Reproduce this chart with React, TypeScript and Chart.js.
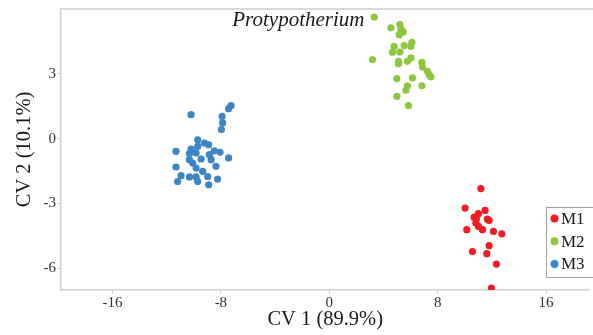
import React, { useEffect, useRef } from 'react';
import { Chart, registerables } from 'chart.js';

Chart.register(...registerables);

const groupLabels = ['M1', 'M2', 'M3'];
const groupColors = ['#ee1d24', '#8dc63f', '#3d85c6'];

const m1X = [11.19, 10.03, 11.5, 11.01, 10.69, 10.86, 11.67, 11.8, 10.82, 11.01, 10.15, 11.31, 12.12, 12.74, 11.8, 10.57, 11.63, 12.34, 11.97];
const m1Y = [-2.31, -3.21, -3.32, -3.47, -3.63, -3.72, -3.72, -3.78, -3.9, -4.06, -4.21, -4.21, -4.29, -4.4, -4.95, -5.22, -5.32, -5.8, -6.91];

const m2X = [3.32, 4.55, 5.21, 5.29, 5.46, 5.16, 6.1, 4.79, 5.53, 6.03, 4.67, 5.21, 3.19, 6.03, 5.77, 5.11, 5.11, 6.84, 6.88, 7.25, 7.37, 7.5, 4.99, 6.14, 5.77, 6.84, 5.66, 4.99, 5.85];
const m2Y = [5.63, 5.13, 5.28, 5.08, 4.94, 4.81, 4.46, 4.27, 4.31, 4.27, 4.0, 4.01, 3.66, 3.74, 3.58, 3.58, 3.47, 3.53, 3.32, 3.12, 2.96, 2.86, 2.78, 2.81, 2.45, 2.45, 2.24, 1.96, 1.53];

const m3X = [-10.2, -7.25, -7.43, -7.91, -7.87, -7.96, -9.71, -9.22, -8.9, -10.2, -9.71, -11.31, -8.48, -8.06, -10.32, -9.83, -8.85, -7.43, -9.46, -10.32, -8.72, -10.08, -8.36, -11.31, -9.83, -9.34, -10.94, -10.32, -9.83, -8.97, -8.24, -11.19, -9.71, -8.9];
const m3Y = [1.11, 1.53, 1.39, 1.03, 0.73, 0.42, -0.05, -0.2, -0.28, -0.48, -0.36, -0.59, -0.56, -0.63, -0.69, -0.66, -0.74, -0.89, -0.94, -0.97, -0.97, -1.13, -1.28, -1.31, -1.36, -1.51, -1.71, -1.77, -1.77, -1.75, -1.87, -1.98, -1.98, -2.13];

const xTicks = [-16, -8, 0, 8, 16];
const yTicks = [-6, -3, 0, 3];
const xTitle = 'CV 1 (89.9%)';
const yTitle = 'CV 2 (10.1%)';
const annotationText = 'Protypotherium';
const annotationX = 2.6;
const annotationY = 5.45;

const seriesX = [m1X, m2X, m3X];
const seriesY = [m1Y, m2Y, m3Y];

const SERIF = '"Liberation Serif", "Times New Roman", serif';

const decorPlugin = {
  id: 'decor',
  afterDraw(chart: any) {
    const { ctx, chartArea, scales } = chart;
    ctx.save();
    // top border
    ctx.strokeStyle = '#d9d9d9';
    ctx.lineWidth = 2;
    ctx.beginPath();
    ctx.moveTo(chartArea.left, chartArea.top);
    ctx.lineTo(chart.width, chartArea.top);
    ctx.stroke();

    // annotation
    ctx.fillStyle = '#1a1a1a';
    ctx.font = `italic 21px ${SERIF}`;
    ctx.textAlign = 'right';
    ctx.textBaseline = 'middle';
    ctx.fillText(annotationText, scales.x.getPixelForValue(annotationX), scales.y.getPixelForValue(annotationY));

    // legend
    const boxLeft = 546;
    const boxTop = 207;
    const rowH = 22.7;
    const boxH = 70;
    ctx.fillStyle = '#ffffff';
    ctx.fillRect(boxLeft, boxTop, chart.width - boxLeft + 5, boxH);
    ctx.strokeStyle = '#a0a0a0';
    ctx.lineWidth = 1;
    ctx.strokeRect(boxLeft + 0.5, boxTop + 0.5, chart.width - boxLeft + 5, boxH);
    ctx.font = `17px ${SERIF}`;
    ctx.textAlign = 'left';
    groupLabels.forEach((lab, i) => {
      const cy = boxTop + 11.5 + i * rowH;
      ctx.fillStyle = groupColors[i];
      ctx.beginPath();
      ctx.arc(554.5, cy, 4, 0, Math.PI * 2);
      ctx.fill();
      ctx.fillStyle = '#1a1a1a';
      ctx.fillText(lab, 561, cy + 1);
    });
    ctx.restore();
  },
};

export default function App() {
  const ref = useRef<HTMLCanvasElement | null>(null);
  useEffect(() => {
    if (!ref.current) return;
    const datasets = groupLabels.map((lab, i) => ({
      label: lab,
      data: seriesX[i].map((x, j) => ({ x, y: seriesY[i][j] })),
      backgroundColor: groupColors[i],
      borderColor: groupColors[i],
      borderWidth: 0,
      pointRadius: 3.6,
      pointHoverRadius: 3.6,
    }));
    const chart = new Chart(ref.current, {
      type: 'scatter',
      data: { datasets },
      plugins: [decorPlugin],
      options: {
        animation: false,
        responsive: false,
        maintainAspectRatio: false,
        layout: { padding: { top: 9, right: 0, left: 0, bottom: 0 } },
        plugins: {
          legend: { display: false },
          tooltip: { enabled: false },
        },
        scales: {
          x: {
            type: 'linear',
            min: -19.8,
            max: 19.2,
            afterFit: (s: any) => { s.height = 45; s.paddingLeft = 0; s.paddingRight = 0; },
            afterBuildTicks: (s: any) => { s.ticks = xTicks.map((v) => ({ value: v })); },
            grid: { drawOnChartArea: false, drawTicks: true, tickLength: 4, color: '#d0d0d0' },
            border: { color: '#d0d0d0', width: 1.5 },
            ticks: { color: '#333', font: { family: SERIF, size: 15 }, padding: 0, maxRotation: 0 },
            title: { display: true, text: xTitle, color: '#1a1a1a', font: { family: SERIF, size: 20.5 }, padding: { top: 0, bottom: 3 } },
          },
          y: {
            type: 'linear',
            min: -7,
            max: 6,
            afterFit: (s: any) => { s.width = 61; s.paddingTop = 0; s.paddingBottom = 0; },
            afterBuildTicks: (s: any) => { s.ticks = yTicks.map((v) => ({ value: v })); },
            grid: { drawOnChartArea: false, drawTicks: true, tickLength: 4, color: '#d0d0d0' },
            border: { color: '#d0d0d0', width: 1.5 },
            ticks: { color: '#333', font: { family: SERIF, size: 15 }, padding: 1 },
            title: { display: true, text: yTitle, color: '#1a1a1a', font: { family: SERIF, size: 20.5 }, padding: { top: 12, bottom: 0 } },
          },
        },
      },
    });
    return () => chart.destroy();
  }, []);
  return (
    <div style={{ position: 'fixed', left: 0, top: 0, width: 593, height: 335, background: '#fff' }}>
      <canvas ref={ref} width={593} height={335} style={{ width: 593, height: 335 }} />
    </div>
  );
}
